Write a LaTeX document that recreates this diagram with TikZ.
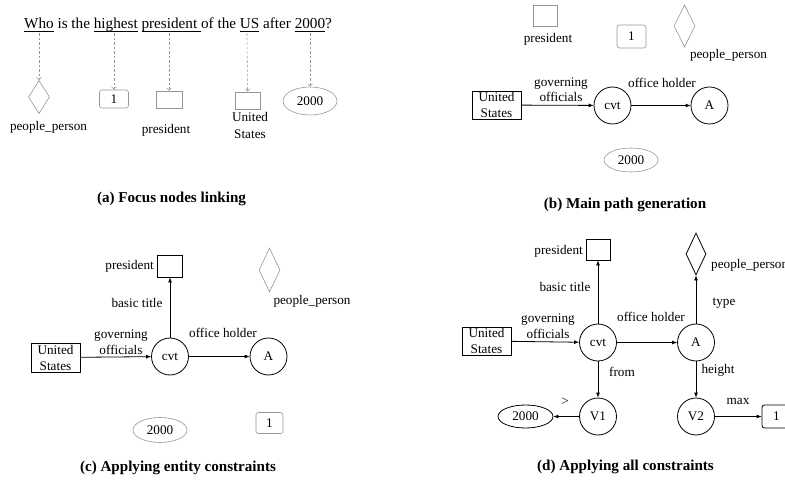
\documentclass[tikz,border=0pt]{standalone}
\usepackage{fontspec}
\setmainfont{Liberation Serif}
\usetikzlibrary{shapes.geometric,arrows.meta}
\definecolor{lgray}{RGB}{150,150,150}
\newcommand\ulw[1]{\setbox0\hbox{#1}\rlap{\rule[-2.6pt]{\wd0}{0.6pt}}\box0\relax}
\tikzset{
  base/.style={inner sep=0pt, font=\fontsize{13.2}{16}\selectfont},
  lbl/.style={base, align=center, text height=0.7em, text depth=0.2em},
  mlbl/.style={base, align=center},
  captxt/.style={inner sep=0pt, font=\fontsize{15.1}{17}\selectfont\bfseries},
  gbox/.style={base, draw=lgray, line width=0.6pt, minimum width=26pt, minimum height=17pt},
  bbox/.style={base, draw=black, line width=0.8pt, align=center},
  gone/.style={base, draw=lgray, line width=0.6pt, rounded corners=2.5pt, minimum width=29pt, minimum height=20pt},
  bone/.style={base, draw=black, line width=0.8pt, rounded corners=2.5pt, minimum width=29pt, minimum height=23pt},
  gdia/.style={diamond, draw=lgray, line width=0.6pt, inner sep=0pt, minimum width=21pt, minimum height=42pt},
  bdia/.style={diamond, draw=black, line width=0.8pt, inner sep=0pt, minimum width=20pt, minimum height=42pt},
  gell/.style={ellipse, base, draw=lgray, line width=0.6pt, minimum width=54pt, minimum height=25pt},
  bell/.style={ellipse, base, draw=black, line width=0.8pt, minimum width=55pt, minimum height=23pt},
  circ/.style={circle, base, draw=black, line width=0.8pt, minimum size=37pt},
  arr/.style={line width=0.8pt, -{Latex[length=5pt,width=4pt]}},
  darr/.style={draw=lgray, line width=0.6pt, dash pattern=on 2.5pt off 2pt, -{Straight Barb[length=2.5pt,width=5pt]}}
}
\begin{document}
\begin{tikzpicture}[x=1pt,y=-1pt]
\useasboundingbox (0,0) rectangle (785,481);
% ---------- (a) ----------
\node[base, anchor=base west, font=\fontsize{15.2}{17}\selectfont] (q) at (24,29)
  {\ulw{Who} is the \ulw{highest} \ulw{president\ }of the \ulw{US} after \ulw{2000}?};
\coordinate (qa) at (39,33.5);
\coordinate (qb) at (114,33.5);
\coordinate (qc) at (169,33.5);
\coordinate (qd) at (247,33.5);
\coordinate (qe) at (310,33.5);
\node[gdia, minimum height=33pt] (diaA) at (39,97) {};
\node[gone, minimum height=18pt] (oneA) at (114,99) {1};
\node[gbox] (presA) at (169,99.5) {};
\node[gbox, minimum width=25pt] (usA) at (247.5,100.5) {};
\node[gell, minimum height=28pt] (yrA) at (310,101) {2000};
\draw[darr] (qa) -- (diaA.north);
\draw[darr] (qb) -- (oneA.north);
\draw[darr] (qc) -- (presA.north);
\draw[darr] (qd) -- (usA.north);
\draw[darr] (qe) -- (yrA.north);
\node[lbl] (ppA) at (48.5,128) {people\_person};
\node[lbl] (prA) at (166,131) {president};
\node[mlbl, font=\fontsize{13.2}{17}\selectfont] (ustA) at (250,125.5) {United\\States};
\node[captxt] (capA) at (171.5,199) {(a) Focus nodes linking};
% ---------- (b) ----------
\node[gbox, minimum width=24pt, minimum height=21pt] (presB) at (545,15.5) {};
\node[lbl] (prB) at (548,40) {president};
\node[gone, minimum height=23pt] (oneB) at (631.5,36.5) {1};
\node[gdia] (diaB) at (684.5,26) {};
\node[lbl] (ppB) at (728.5,56) {people\_person};
\node[bbox, minimum width=49pt, minimum height=28pt] (usB) at (496.5,105) {United\\States};
\node[circ] (cvtB) at (612.5,105.5) {cvt};
\node[circ] (AB) at (709.5,105.5) {A};
\draw[arr] (usB) -- (cvtB);
\draw[arr] (cvtB) -- (AB);
\node[mlbl, font=\fontsize{13.2}{15}\selectfont] (goB) at (561,89.5) {governing\\officials};
\node[lbl] (ohB) at (662,85) {office holder};
\node[gell, minimum height=24pt] (yrB) at (631,160) {2000};
\node[captxt] (capB) at (625,205) {(b) Main path generation};
% ---------- (c) ----------
\node[bbox, minimum width=25pt, minimum height=22pt] (presC) at (170,266) {};
\node[lbl, anchor=east] (prC) at (154,267) {president};
\node[gdia, minimum height=44pt] (diaC) at (269.5,270) {};
\node[lbl] (ppC) at (312,302) {people\_person};
\node[bbox, minimum width=49pt, minimum height=29pt] (usC) at (55.5,357.5) {United\\States};
\node[circ] (cvtC) at (170,356.5) {cvt};
\node[circ] (AC) at (268.5,356.5) {A};
\draw[arr] (usC) -- (cvtC);
\draw[arr] (cvtC) -- (AC);
\draw[arr] (cvtC) -- (presC);
\node[lbl] (btC) at (137,305) {basic title};
\node[mlbl] (goC) at (121,342) {governing\\officials};
\node[lbl] (ohC) at (223,335) {office holder};
\node[gell] (yrC) at (160,430) {2000};
\node[gone, minimum width=27pt, minimum height=21pt] (oneC) at (269.5,423) {1};
\node[captxt] (capC) at (178,468) {(c) Applying entity constraints};
% ---------- (d) ----------
\node[bbox, minimum width=24pt, minimum height=21pt] (presD) at (598,249.5) {};
\node[lbl, anchor=east] (prD) at (583,252) {president};
\node[bdia] (diaD) at (696,254) {};
\node[lbl, anchor=west] (ppD) at (711,266) {people\_person};
\node[bbox, minimum width=49pt, minimum height=28pt] (usD) at (486.5,341) {United\\States};
\node[circ] (cvtD) at (598,342.5) {cvt};
\node[circ] (AD) at (696,342.5) {A};
\node[circ] (V1) at (598,416.5) {V1};
\node[circ] (V2) at (696,416.5) {V2};
\node[bell] (yrD) at (525.5,416.5) {2000};
\node[bone] (oneD) at (776.5,416.5) {1};
\draw[arr] (usD) -- (cvtD);
\draw[arr] (cvtD) -- (AD);
\draw[arr] (cvtD) -- (presD);
\draw[arr] (AD) -- (diaD);
\draw[arr] (cvtD) -- (V1);
\draw[arr] (AD) -- (V2);
\draw[arr] (V1) -- (yrD);
\draw[arr] (V2) -- (oneD);
\node[lbl] (btD) at (565,289) {basic title};
\node[lbl] (tyD) at (724,303) {type};
\node[mlbl] (goD) at (548,326) {governing\\officials};
\node[lbl] (ohD) at (651,319) {office holder};
\node[lbl] (frD) at (622,374) {from};
\node[lbl] (heD) at (718,371) {height};
\node[lbl] (gtD) at (565,403) {>};
\node[lbl] (mxD) at (738,402) {max};
\node[captxt] (capD) at (625.5,467) {(d) Applying all constraints};
\end{tikzpicture}
\end{document}
